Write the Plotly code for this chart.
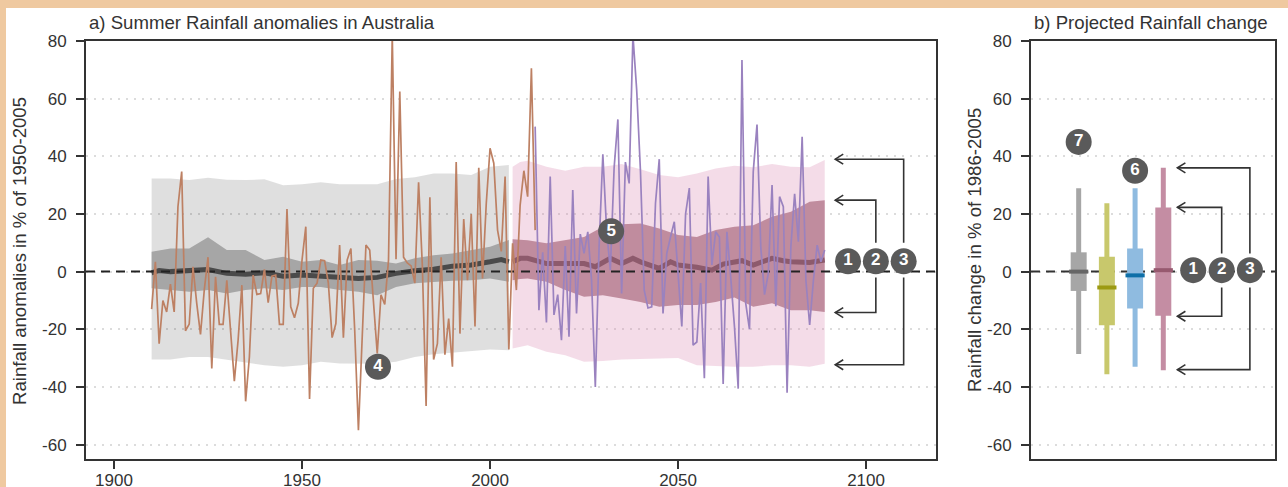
import plotly.graph_objects as go
from plotly.subplots import make_subplots

# ---------- DATA ----------
obs_years = list(range(1910, 2013))
obs_values = [
    -13, 3.4, -25, -10, -14, -4.3, -14, 22.5, 34.7, -20.5,
    -18.2, 1.7, -11, -21.8, -6.4, 5, -33.6, -1.8, -18.3, -18.3,
    -3, -20, -38, -23.8, -4.7, -45, -29.6, -1.2, -7.9, -7.6,
    0.8, -10.8, -1.6, -1.2, -18.3, -18.3, 21.7, -12.2, -16, -11,
    4, 15.6, -44.2, -5.8, -4, 4, 3.8, -4, -22.9, -18,
    9.2, -22.9, 4, 8, -20, -55, -23, 9.2, 7.5, -10,
    -28.4, -8, -11.4, 4, 82, 4.3, 62.5, 5, 3, 2,
    -4, 31, 2, -46.6, 25.8, -30.5, -25, 5, -28.8, -16.3,
    -33, 38, -21.5, 18.2, -3, 20, -19, 36, -2.4, 23.7,
    42.8, 37.6, 14.4, 7, 33, -27, 9.8, -6.4, 23, 35,
    26, 70.5, 14.4,
]
proj_years = list(range(2012, 2090))
proj_values = [
    50.3, -13.4, 6.7, -17.6, 33, -15, -8, -23.8, 8.9, -22.6,
    28.3, -14.5, 13, 6.3, 13.8, -3, -40, 8.6, 40.7, 14.4,
    0.5, 36, 52.8, -7.6, 38, 30.6, 82, 63, 35, -6.4,
    -12.6, -12.2, 23.7, 39, -14.5, 6.3, 12, 17.3, -0.6, -19,
    20, 29, -25.5, -24.4, -4, -37, 33, 2.3, 13.8, 12,
    -39, 13.8, -1.8, -19, -40.6, 73.4, -11, -20, 34.7, 51,
    8.6, -8, -0.6, 30, -12, 26, 22.5, -42, 8.6, 27,
    10.4, 46.8, -3, -18.5, -3, 9.2, 3.4, 7.5,
]

hist_band_years = [1910, 1915, 1920, 1925, 1930, 1935, 1940, 1945, 1950, 1955,
                   1960, 1965, 1970, 1975, 1980, 1985, 1990, 1995, 2000, 2005]
hist_outer_hi = [32.3, 32.3, 31.8, 32.6, 31.9, 31.8, 32, 30, 30.3, 31,
                 30.3, 30.4, 30.3, 32.1, 32.7, 34, 34, 33.5, 36.4, 37]
hist_outer_lo = [-30.5, -30.5, -29.6, -29.6, -30.5, -31.5, -32.5, -33, -32.5, -31.3,
                 -31.9, -32, -32, -31.3, -29.6, -28.7, -28, -27.6, -27, -27.3]
hist_inner_hi = [6.9, 8, 8, 11.9, 7.5, 7.5, 4, 5.2, 3.4, 4,
                 2.3, 4, 3.8, 2.8, 4.6, 5.7, 6.3, 7.5, 8.6, 11]
hist_inner_lo = [-5.8, -6.4, -7, -6.4, -7.6, -6.4, -5.8, -6.4, -5.3, -5.3,
                 -6.4, -7, -8.2, -5.3, -4, -3.5, -3.2, -3, -2.4, -3.5]
hist_mean_years = [1910, 1912, 1915, 1920, 1925, 1930, 1935, 1940, 1945, 1950, 1955,
                   1960, 1965, 1970, 1975, 1980, 1985, 1990, 1995, 2000, 2003, 2005]
hist_mean = [-0.4, 0.4, 0, 0.5, 0.7, -0.6, -0.9, -0.4, -1.6, -1.2, -1.6,
             -2, -2.4, -2, -0.6, 0.3, 0.8, 1.9, 2.3, 3.4, 4.2, 3.4]

rcp_hi_years = [2006, 2008, 2010, 2015, 2020, 2025, 2030, 2035, 2040, 2045,
                2050, 2055, 2060, 2065, 2070, 2075, 2080, 2085, 2089]
rcp_outer_hi = [36.4, 38, 38.5, 36.4, 35, 36.4, 36.4, 37.3, 35.5, 33.5,
                32.7, 34, 35.8, 36.7, 36.2, 37.3, 36.4, 36.2, 38.7]
rcp_outer_lo = [-26.7, -26, -25.5, -27.8, -29, -31.3, -31, -30.5, -30.5, -30.2,
                -30, -32.5, -32.7, -33, -33, -32.5, -32.5, -33, -32]
rcp_inner_hi = [11.2, 11, 10.9, 9.8, 10.9, 12, 15.6, 16.4, 16.7, 15,
                12.7, 12, 14.4, 15.6, 16.1, 19, 20.8, 24.2, 24.8]
rcp_inner_lo = [-3, -2.6, -2.4, -3.5, -6.4, -8.7, -8.2, -9.3, -10.5, -12.2,
                -11.6, -11.6, -10.5, -9, -12.2, -11, -13.4, -13.4, -14]
rcp_mean_years = [2006, 2008, 2010, 2015, 2020, 2025, 2028, 2032, 2035, 2038, 2040, 2045, 2048,
                  2050, 2055, 2059, 2062, 2067, 2070, 2075, 2078, 2080, 2085, 2089]
rcp_mean = [3.4, 4.6, 4.6, 2.8, 2.8, 2.8, 1.7, 4.6, 2.8, 4.6, 3.4, 1.1, 3.4,
            2.3, 1.5, 0.5, 2.6, 3.8, 2.3, 4.6, 3.8, 3.4, 3.2, 4]

box_x = [1, 2, 3, 4]
box_low = [-28.6, -35.6, -33, -34.2]
box_q1 = [-6.7, -18.6, -12.8, -15.3]
box_median = [0, -5.5, -1.3, 0.5]
box_q3 = [6.7, 5.2, 8, 22.2]
box_high = [28.9, 23.7, 28.9, 36]

y_ticks = [-60, -40, -20, 0, 20, 40, 60, 80]
y_tick_text = ["-60", "-40", "-20", "0", "20", "40", "60", "80"]
x_ticks = [1900, 1950, 2000, 2050, 2100]

badge_a_x = [2095.2, 2102.6, 2110, 1970.2, 2032.2]
badge_a_y = [3.6, 3.6, 3.6, -33, 14]
badge_a_text = ["1", "2", "3", "4", "5"]
badge_b_x = [5.06, 6.07, 7.07, 1, 3]
badge_b_y = [0.5, 0.5, 0.5, 45, 35]
badge_b_text = ["1", "2", "3", "7", "6"]

# bracket = (x of the vertical, x of the arrow tip, upper tip, upper stub, lower stub, lower tip)
brackets_a = [(2102.6, 2091.8, 24.8, 10, -2, -14.2), (2110, 2091.8, 39, 10, -2, -32.3)]
brackets_b = [(6.07, 4.5, 22.3, 6.3, -5.5, -15.5), (7.07, 4.5, 36, 6.3, -5.5, -34)]

# ---------- STYLE ----------
W, H = 1288, 487
FONT = "Liberation Sans, Arial, sans-serif"
TXT = "#333333"
FS = 17
LABEL_FS = 18.6
box_cols = ["#a6a6a6", "#c8c86c", "#8fbbe0", "#c48da3"]
med_cols = ["#666666", "#9c9a12", "#0e6fa8", "#97596f"]

fig = make_subplots(rows=1, cols=2)
common_y = dict(domain=[1-459/H, 1-41/H], range=[-65, 80], tickvals=y_ticks, ticktext=y_tick_text,
                ticks="outside", ticklen=8, tickwidth=2, tickcolor="#333", automargin=False,
                showgrid=True, gridcolor="#dcdcdc", gridwidth=1.5, griddash="2px,6px", zeroline=False,
                showline=True, linecolor="#333", linewidth=2, mirror=True, ticklabelstandoff=6)
fig.update_layout(
    width=W, height=H, showlegend=False,
    margin=dict(l=0, r=0, t=0, b=0, autoexpand=False),
    paper_bgcolor="#efc9a0", plot_bgcolor="white",
    font=dict(family=FONT, size=FS, color=TXT),
    xaxis=dict(domain=[86/W, 936/W], range=[1892.55, 2118.6], tickvals=x_ticks, automargin=False,
               ticks="outside", ticklen=8, tickwidth=2, tickcolor="#333",
               showgrid=False, zeroline=False, showline=True, linecolor="#333", linewidth=2, mirror=True,
               ticklabelstandoff=-3),
    yaxis=common_y,
    xaxis2=dict(domain=[1031/W, 1275/W], range=[-0.69, 7.96], showticklabels=False, ticks="", automargin=False,
                showgrid=False, zeroline=False, showline=True, linecolor="#333", linewidth=2, mirror=True),
    yaxis2=dict(common_y, anchor="x2"),
)

def band(xs, hi, lo, color, col=1):
    fig.add_trace(go.Scatter(x=xs + xs[::-1], y=hi + lo[::-1], mode="lines", fill="toself",
                             fillcolor=color, line=dict(width=0), hoverinfo="skip"), row=1, col=col)

def line(xs, ys, color, width, col=1, dash=None):
    fig.add_trace(go.Scatter(x=xs, y=ys, mode="lines", line=dict(color=color, width=width, dash=dash),
                             hoverinfo="skip"), row=1, col=col)

def badges(xs, ys, texts, col):
    fig.add_trace(go.Scatter(x=xs, y=ys, mode="markers+text", text=texts, textposition="middle center",
                             marker=dict(size=26, color="#5a5a5a"),
                             textfont=dict(color="white", size=17, family="Liberation Sans, Arial", weight="bold"),
                             hoverinfo="skip"), row=1, col=col)

def bracket(spec, col):
    xv, tip, top, s1, s2, bot = spec
    line([tip, xv, xv], [top, top, s1], "#333", 1.6, col)
    line([tip, xv, xv], [bot, bot, s2], "#333", 1.6, col)
    ax, ay = ("x", "y") if col == 1 else ("x2", "y2")
    for v in (top, bot):
        fig.add_shape(type="path", xref=ax, yref=ay, xsizemode="pixel", ysizemode="pixel",
                      xanchor=tip, yanchor=v, path="M 8 -5 L 0 0 L 8 5",
                      line=dict(color="#333", width=1.6))

# panel a
band(hist_band_years, hist_outer_hi, hist_outer_lo, "rgba(0,0,0,0.125)")
band(rcp_hi_years, rcp_outer_hi, rcp_outer_lo, "rgba(220,140,180,0.3)")
band(hist_band_years, hist_inner_hi, hist_inner_lo, "#a6a6a6")
band(rcp_hi_years, rcp_inner_hi, rcp_inner_lo, "#c08c9e")
line(hist_mean_years, hist_mean, "#4a4a4a", 5)
line(rcp_mean_years, rcp_mean, "#8d5a6c", 5)
line([1892.55, 2118.6], [0, 0], "#222", 2, 1, "9px,6px")
line(obs_years, obs_values, "#bd8063", 1.7)
line(proj_years, proj_values, "#9a82bf", 1.7)
for b in brackets_a:
    bracket(b, 1)
badges(badge_a_x, badge_a_y, badge_a_text, 1)

# panel b
line([-0.69, 7.96], [0, 0], "#333", 2, 2, "9px,6px")
for i, x in enumerate(box_x):
    line([x, x], [box_low[i], box_high[i]], box_cols[i], 5, 2)
    line([x, x], [box_q1[i], box_q3[i]], box_cols[i], 16, 2)
    line([x - 0.34, x + 0.34], [box_median[i], box_median[i]], med_cols[i], 4, 2)
for b in brackets_b:
    bracket(b, 2)
badges(badge_b_x, badge_b_y, badge_b_text, 2)

# white page over the tinted frame
fig.add_shape(type="rect", xref="paper", yref="paper", x0=6/W, x1=1, y0=0, y1=1-8/H,
              fillcolor="white", line_width=0, layer="below")

def label(text, x, y, angle=0, anchor="center"):
    fig.add_annotation(text=text, xref="paper", yref="paper", x=x/W, y=1-y/H, showarrow=False,
                       textangle=angle, xanchor=anchor, yanchor="middle",
                       font=dict(size=LABEL_FS, color=TXT, family=FONT))

label("a) Summer Rainfall anomalies in Australia", 87, 23, anchor="left")
label("b) Projected Rainfall change", 1032, 23, anchor="left")
label("Rainfall anomalies in % of 1950-2005", 19, 251, angle=-90)
label("Rainfall change in % of 1986-2005", 975, 250, angle=-90)

fig.write_html("out.html", config=dict(displayModeBar=False),
               post_script="document.body.style.margin='0';document.body.style.overflow='hidden';")
